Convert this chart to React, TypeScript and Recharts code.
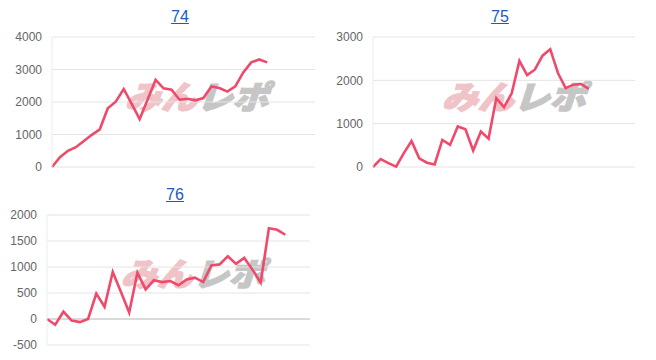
import { LineChart, Line, XAxis, YAxis, CartesianGrid, ReferenceLine } from 'recharts'

// 差枚 per machine
const titles = ['74', '75', '76']

const values74 = [
  0, 300, 500, 610, 800, 990, 1160, 1810, 2010, 2400, 1940, 1470, 2080, 2680,
  2420, 2380, 2070, 2100, 2050, 2120, 2480, 2430, 2320, 2480, 2910, 3220, 3310, 3220,
]
const values75 = [
  0, 180, 90, 10, 320, 600, 200, 100, 60, 625, 510, 935, 870, 380, 820, 655,
  1590, 1380, 1700, 2450, 2120, 2245, 2570, 2720, 2170, 1820, 1900, 1915, 1805,
]
const values76 = [
  0, -110, 140, -30, -60, 0, 490, 235, 905, 520, 125, 890, 570, 745, 710, 730,
  650, 760, 795, 710, 1030, 1050, 1205, 1060, 1175, 950, 700, 1745, 1715, 1620,
]

const ticks74 = [0, 1000, 2000, 3000, 4000]
const ticks75 = [0, 1000, 2000, 3000]
const ticks76 = [-500, 0, 500, 1000, 1500, 2000]

// number of x slots on each axis (data is shorter than the axis)
const slots = [33, 34, 32]

const LINE = '#ef4a6b'
const FONT = '"Liberation Sans", Arial, Helvetica, sans-serif'

const toRows = (vals: number[]) => vals.map((v, i) => ({ i, v }))

type PanelProps = {
  title: string
  values: number[]
  ticks: number[]
  xMax: number
  left: number
  top: number
  width: number
  plotLeft: number
  plotRight: number
  titleX: number
  mark: { x: number; y: number }
}

function Panel({ title, values, ticks, xMax, left, top, width, plotLeft, plotRight, titleX, mark }: PanelProps) {
  const lo = ticks[0]
  const hi = ticks[ticks.length - 1]
  return (
    <div style={{ position: 'absolute', left, top, width, height: 180 }}>
      <a
        href="#"
        style={{
          position: 'absolute',
          left: titleX - 20,
          width: 40,
          top: 8,
          textAlign: 'center',
          color: '#1d59c4',
          fontFamily: FONT,
          fontSize: 16,
          textDecoration: 'underline',
        }}
      >
        {title}
      </a>
      <div
        style={{
          position: 'absolute',
          left: mark.x - 90,
          top: mark.y - 20,
          width: 180,
          textAlign: 'center',
          fontFamily: '"Noto Sans CJK JP", sans-serif',
          fontWeight: 900,
          fontSize: 32,
          lineHeight: '40px',
          transform: 'scaleX(1.12) skewX(-16deg)',
          WebkitTextStroke: '1.5px',
        }}
      >
        <span style={{ color: '#f0c3c8', WebkitTextStrokeColor: '#f0c3c8' }}>みん</span>
        <span style={{ color: '#c6c6c6', WebkitTextStrokeColor: '#c6c6c6' }}>レポ</span>
      </div>
      <div style={{ position: 'absolute', left: 0, top: 0 }}>
        <LineChart
          width={width}
          height={180}
          data={toRows(values)}
          margin={{ top: 37, right: width - plotRight, bottom: 13, left: 0 }}
        >
          <CartesianGrid vertical={false} stroke="#e4e4e4" />
          <XAxis
            dataKey="i"
            type="number"
            domain={[0, xMax]}
            tick={false}
            tickLine={false}
            height={0}
            axisLine={{ stroke: '#c4c4c4' }}
          />
          <YAxis
            width={plotLeft}
            domain={[lo, hi]}
            ticks={ticks}
            interval={0}
            tickSize={0}
            tickMargin={10}
            axisLine={{ stroke: '#ececec' }}
            tick={{ fontSize: 12, fill: '#666', fontFamily: FONT }}
          />
          {lo < 0 && <ReferenceLine y={0} stroke="#c4c4c4" />}
          <Line
            dataKey="v"
            stroke={LINE}
            strokeWidth={2.6}
            dot={false}
            strokeLinejoin="miter"
            isAnimationActive={false}
          />
        </LineChart>
      </div>
    </div>
  )
}

export default function App() {
  return (
    <div style={{ position: 'absolute', left: 0, top: 0, width: 656, height: 360, background: '#fff' }}>
      <Panel
        title={titles[0]}
        values={values74}
        ticks={ticks74}
        xMax={slots[0]}
        left={0}
        top={0}
        width={328}
        plotLeft={52}
        plotRight={315}
        titleX={180}
        mark={{ x: 201, y: 95 }}
      />
      <Panel
        title={titles[1]}
        values={values75}
        ticks={ticks75}
        xMax={slots[1]}
        left={328}
        top={0}
        width={328}
        plotLeft={45}
        plotRight={307}
        titleX={172}
        mark={{ x: 190, y: 95 }}
      />
      <Panel
        title={titles[2]}
        values={values76}
        ticks={ticks76}
        xMax={slots[2]}
        left={0}
        top={178}
        width={328}
        plotLeft={47}
        plotRight={310}
        titleX={175}
        mark={{ x: 197, y: 94 }}
      />
    </div>
  )
}
